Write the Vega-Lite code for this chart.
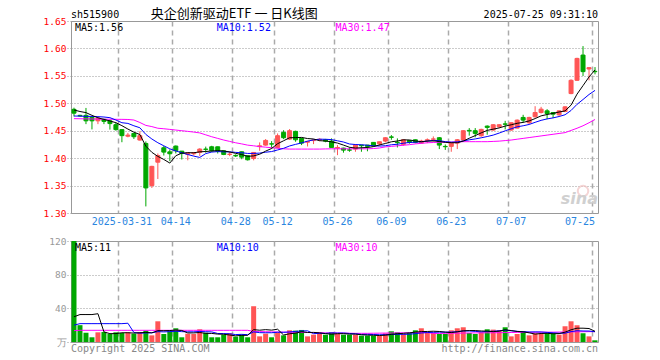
{
"$schema":"https://vega.github.io/schema/vega-lite/v6.json",
"background":"white",
"padding":{"left":42,"top":7,"right":0,"bottom":0},
"config":{"view":{"stroke":"#999","strokeWidth":1},"font":"DejaVu Sans Mono"},
"bounds":"flush",
"spacing":28,
"datasets":{"k":[
{"d":"2025-03-19","o":1.489,"h":1.492,"l":1.476,"c":1.482,"v":120,"m5":1.4878,"m10":1.4768,"m30":1.472,"v5":30,"v10":20,"v30":13.5},
{"d":"2025-03-20","o":1.478,"h":1.479,"l":1.476,"c":1.477,"v":20,"m5":1.485,"m10":1.4765,"m30":1.4718,"v5":32.6,"v10":21.8,"v30":13.9},
{"d":"2025-03-21","o":1.478,"h":1.4915,"l":1.462,"c":1.468,"v":11,"m5":1.483,"m10":1.4762,"m30":1.4716,"v5":32.6,"v10":21.8,"v30":13.9},
{"d":"2025-03-24","o":1.4744,"h":1.476,"l":1.4524,"c":1.468,"v":5.6,"m5":1.478,"m10":1.476,"m30":1.4714,"v5":32.6,"v10":21.8,"v30":13.9},
{"d":"2025-03-25","o":1.468,"h":1.474,"l":1.462,"c":1.473,"v":11.5,"m5":1.4736,"m10":1.4756,"m30":1.4712,"v5":33.6,"v10":21.8,"v30":13.9},
{"d":"2025-03-26","o":1.4707,"h":1.472,"l":1.462,"c":1.467,"v":11.9,"m5":1.4706,"m10":1.475,"m30":1.471,"v5":12.0,"v10":21.8,"v30":13.9},
{"d":"2025-03-27","o":1.468,"h":1.47,"l":1.452,"c":1.463,"v":9.5,"m5":1.4678,"m10":1.4738,"m30":1.471,"v5":9.9,"v10":21.8,"v30":13.9},
{"d":"2025-03-28","o":1.461,"h":1.465,"l":1.45,"c":1.452,"v":11.5,"m5":1.4646,"m10":1.4695,"m30":1.4708,"v5":10.0,"v10":21.8,"v30":13.9},
{"d":"2025-03-31","o":1.452,"h":1.453,"l":1.429,"c":1.441,"v":10.7,"m5":1.4592,"m10":1.4646,"m30":1.4707,"v5":11.0,"v10":21.8,"v30":13.9},
{"d":"2025-04-01","o":1.44,"h":1.446,"l":1.438,"c":1.442,"v":11.5,"m5":1.453,"m10":1.4633,"m30":1.4705,"v5":11.0,"v10":22.3,"v30":13.9},
{"d":"2025-04-02","o":1.445,"h":1.446,"l":1.435,"c":1.439,"v":9.9,"m5":1.4474,"m10":1.459,"m30":1.4695,"v5":10.6,"v10":11.3,"v30":13.9},
{"d":"2025-04-03","o":1.433,"h":1.449,"l":1.432,"c":1.441,"v":11.5,"m5":1.443,"m10":1.4554,"m30":1.465,"v5":11.0,"v10":10.5,"v30":13.9},
{"d":"2025-04-07","o":1.4268,"h":1.4305,"l":1.312,"c":1.3457,"v":13.5,"m5":1.4218,"m10":1.4432,"m30":1.4597,"v5":11.4,"v10":10.7,"v30":13.9},
{"d":"2025-04-08","o":1.35,"h":1.386,"l":1.3457,"c":1.385,"v":7.9,"m5":1.4106,"m10":1.4349,"m30":1.4575,"v5":10.9,"v10":10.9,"v30":13.9},
{"d":"2025-04-09","o":1.3926,"h":1.4085,"l":1.362,"c":1.4048,"v":24.6,"m5":1.4032,"m10":1.4281,"m30":1.4545,"v5":13.5,"v10":12.3,"v30":13.9},
{"d":"2025-04-10","o":1.4189,"h":1.422,"l":1.4048,"c":1.411,"v":9.5,"m5":1.3976,"m10":1.4225,"m30":1.4536,"v5":13.4,"v10":12.0,"v30":13.9},
{"d":"2025-04-11","o":1.4115,"h":1.416,"l":1.3945,"c":1.408,"v":12.7,"m5":1.391,"m10":1.417,"m30":1.4524,"v5":13.6,"v10":12.3,"v30":13.9},
{"d":"2025-04-14","o":1.422,"h":1.423,"l":1.4085,"c":1.4134,"v":16.3,"m5":1.4044,"m10":1.4131,"m30":1.4512,"v5":14.2,"v10":12.8,"v30":13.9},
{"d":"2025-04-15","o":1.4128,"h":1.413,"l":1.3975,"c":1.4085,"v":5.6,"m5":1.4091,"m10":1.4099,"m30":1.45,"v5":13.7,"v10":12.3,"v30":13.9},
{"d":"2025-04-16","o":1.407,"h":1.41,"l":1.396,"c":1.4096,"v":9.9,"m5":1.41,"m10":1.4066,"m30":1.4488,"v5":10.8,"v10":12.1,"v30":13.9},
{"d":"2025-04-17","o":1.408,"h":1.411,"l":1.405,"c":1.41,"v":9.5,"m5":1.4098,"m10":1.4037,"m30":1.4475,"v5":10.8,"v10":12.1,"v30":13.9},
{"d":"2025-04-18","o":1.4104,"h":1.418,"l":1.404,"c":1.4165,"v":15.1,"m5":1.4115,"m10":1.4013,"m30":1.446,"v5":11.3,"v10":12.5,"v30":13.9},
{"d":"2025-04-21","o":1.4165,"h":1.421,"l":1.41,"c":1.416,"v":11.1,"m5":1.4121,"m10":1.4083,"m30":1.4425,"v5":10.2,"v10":12.2,"v30":13.9},
{"d":"2025-04-22","o":1.4207,"h":1.4225,"l":1.4116,"c":1.4134,"v":5.6,"m5":1.4131,"m10":1.4111,"m30":1.439,"v5":10.2,"v10":12.0,"v30":13.9},
{"d":"2025-04-23","o":1.4207,"h":1.421,"l":1.4085,"c":1.4128,"v":5.6,"m5":1.4137,"m10":1.4119,"m30":1.436,"v5":9.4,"v10":10.1,"v30":13.9},
{"d":"2025-04-24","o":1.4134,"h":1.414,"l":1.4055,"c":1.4067,"v":8.7,"m5":1.4131,"m10":1.4115,"m30":1.433,"v5":9.2,"v10":10.0,"v30":13.9},
{"d":"2025-04-25","o":1.4067,"h":1.4116,"l":1.4036,"c":1.4073,"v":10.3,"m5":1.4112,"m10":1.4114,"m30":1.4305,"v5":8.3,"v10":9.8,"v30":13.9},
{"d":"2025-04-28","o":1.405,"h":1.407,"l":1.402,"c":1.404,"v":6.4,"m5":1.4088,"m10":1.4105,"m30":1.428,"v5":7.3,"v10":8.8,"v30":13.9},
{"d":"2025-04-29","o":1.4116,"h":1.412,"l":1.398,"c":1.4018,"v":8.7,"m5":1.4065,"m10":1.4098,"m30":1.426,"v5":7.9,"v10":9.1,"v30":13.9},
{"d":"2025-04-30","o":1.4043,"h":1.405,"l":1.3957,"c":1.397,"v":5.6,"m5":1.4034,"m10":1.4086,"m30":1.4237,"v5":7.9,"v10":8.7,"v30":13.9},
{"d":"2025-05-06","o":1.3994,"h":1.411,"l":1.396,"c":1.4104,"v":42.5,"m5":1.4041,"m10":1.4086,"m30":1.4225,"v5":14.7,"v10":12.0,"v30":12.5},
{"d":"2025-05-07","o":1.421,"h":1.4287,"l":1.4134,"c":1.4225,"v":6.7,"m5":1.4071,"m10":1.4092,"m30":1.421,"v5":14.0,"v10":11.1,"v30":12.3},
{"d":"2025-05-08","o":1.4238,"h":1.4348,"l":1.4226,"c":1.4323,"v":9.9,"m5":1.4128,"m10":1.4108,"m30":1.42,"v5":14.7,"v10":11.0,"v30":12.2},
{"d":"2025-05-09","o":1.4262,"h":1.431,"l":1.4177,"c":1.4256,"v":5.6,"m5":1.4176,"m10":1.412,"m30":1.419,"v5":14.1,"v10":11.0,"v30":12.0},
{"d":"2025-05-12","o":1.4195,"h":1.445,"l":1.4177,"c":1.4409,"v":11.5,"m5":1.4263,"m10":1.4149,"m30":1.418,"v5":15.2,"v10":11.6,"v30":11.9},
{"d":"2025-05-13","o":1.447,"h":1.451,"l":1.4347,"c":1.4372,"v":7.9,"m5":1.4317,"m10":1.4179,"m30":1.417,"v5":8.3,"v10":11.5,"v30":11.7},
{"d":"2025-05-14","o":1.4347,"h":1.453,"l":1.4335,"c":1.45,"v":13.9,"m5":1.4372,"m10":1.4222,"m30":1.4165,"v5":9.8,"v10":11.9,"v30":11.6},
{"d":"2025-05-15","o":1.4488,"h":1.45,"l":1.4299,"c":1.4335,"v":13.5,"m5":1.4374,"m10":1.4251,"m30":1.4165,"v5":10.5,"v10":12.6,"v30":11.5},
{"d":"2025-05-16","o":1.436,"h":1.437,"l":1.4238,"c":1.4274,"v":14.3,"m5":1.4378,"m10":1.4277,"m30":1.4165,"v5":12.2,"v10":13.1,"v30":11.4},
{"d":"2025-05-19","o":1.429,"h":1.431,"l":1.4213,"c":1.4305,"v":6.7,"m5":1.4357,"m10":1.431,"m30":1.4165,"v5":11.3,"v10":13.3,"v30":11.3},
{"d":"2025-05-20","o":1.432,"h":1.434,"l":1.4256,"c":1.433,"v":8.7,"m5":1.4349,"m10":1.4333,"m30":1.4165,"v5":11.4,"v10":9.9,"v30":11.1},
{"d":"2025-05-21","o":1.4335,"h":1.436,"l":1.431,"c":1.4345,"v":11.1,"m5":1.4318,"m10":1.4345,"m30":1.4165,"v5":10.9,"v10":10.3,"v30":11.0},
{"d":"2025-05-22","o":1.4335,"h":1.435,"l":1.429,"c":1.431,"v":8.7,"m5":1.4313,"m10":1.4344,"m30":1.4168,"v5":9.9,"v10":10.2,"v30":10.8},
{"d":"2025-05-23","o":1.4311,"h":1.436,"l":1.419,"c":1.4195,"v":11.5,"m5":1.4297,"m10":1.4338,"m30":1.417,"v5":9.3,"v10":10.8,"v30":10.7},
{"d":"2025-05-26","o":1.4183,"h":1.4238,"l":1.4055,"c":1.4195,"v":9.5,"m5":1.4275,"m10":1.4316,"m30":1.417,"v5":9.9,"v10":10.6,"v30":10.6},
{"d":"2025-05-27","o":1.4183,"h":1.419,"l":1.41,"c":1.4146,"v":8.7,"m5":1.4238,"m10":1.4294,"m30":1.417,"v5":9.9,"v10":10.7,"v30":10.5},
{"d":"2025-05-28","o":1.415,"h":1.4195,"l":1.4116,"c":1.4146,"v":8.7,"m5":1.4198,"m10":1.4258,"m30":1.417,"v5":9.4,"v10":10.1,"v30":10.4},
{"d":"2025-05-29","o":1.4165,"h":1.4256,"l":1.4116,"c":1.4238,"v":8.7,"m5":1.4184,"m10":1.4248,"m30":1.417,"v5":9.4,"v10":9.7,"v30":10.3},
{"d":"2025-05-30","o":1.4238,"h":1.424,"l":1.4116,"c":1.4226,"v":7.5,"m5":1.419,"m10":1.4244,"m30":1.417,"v5":8.6,"v10":9.0,"v30":10.3},
{"d":"2025-06-03","o":1.4238,"h":1.424,"l":1.4125,"c":1.4214,"v":7.5,"m5":1.4194,"m10":1.4235,"m30":1.417,"v5":8.2,"v10":9.1,"v30":10.3},
{"d":"2025-06-04","o":1.4287,"h":1.429,"l":1.421,"c":1.4226,"v":7.5,"m5":1.421,"m10":1.4224,"m30":1.4175,"v5":8.0,"v10":8.9,"v30":10.4},
{"d":"2025-06-05","o":1.4262,"h":1.43,"l":1.4226,"c":1.4299,"v":7.5,"m5":1.4241,"m10":1.422,"m30":1.4185,"v5":7.7,"v10":8.6,"v30":10.5},
{"d":"2025-06-06","o":1.4311,"h":1.438,"l":1.4287,"c":1.4372,"v":10.3,"m5":1.4267,"m10":1.4226,"m30":1.4205,"v5":8.1,"v10":8.7,"v30":10.6},
{"d":"2025-06-09","o":1.4387,"h":1.442,"l":1.4335,"c":1.438,"v":12.7,"m5":1.4298,"m10":1.4244,"m30":1.4215,"v5":9.1,"v10":8.9,"v30":10.7},
{"d":"2025-06-10","o":1.429,"h":1.436,"l":1.4195,"c":1.4282,"v":11.5,"m5":1.4312,"m10":1.4253,"m30":1.4225,"v5":9.9,"v10":9.1,"v30":10.8},
{"d":"2025-06-11","o":1.425,"h":1.4348,"l":1.4225,"c":1.4335,"v":9.5,"m5":1.4334,"m10":1.4272,"m30":1.4235,"v5":10.3,"v10":9.1,"v30":10.9},
{"d":"2025-06-12","o":1.4323,"h":1.433,"l":1.4262,"c":1.4287,"v":10.7,"m5":1.4331,"m10":1.4286,"m30":1.4245,"v5":10.9,"v10":9.3,"v30":11.0},
{"d":"2025-06-13","o":1.4335,"h":1.434,"l":1.427,"c":1.4287,"v":13.9,"m5":1.4314,"m10":1.4291,"m30":1.426,"v5":11.7,"v10":9.9,"v30":11.1},
{"d":"2025-06-16","o":1.4274,"h":1.4335,"l":1.427,"c":1.4311,"v":16.3,"m5":1.43,"m10":1.4299,"m30":1.427,"v5":12.4,"v10":10.7,"v30":11.2},
{"d":"2025-06-17","o":1.4323,"h":1.436,"l":1.4274,"c":1.4335,"v":11.9,"m5":1.4311,"m10":1.4311,"m30":1.428,"v5":12.5,"v10":11.2,"v30":11.2},
{"d":"2025-06-18","o":1.4345,"h":1.4396,"l":1.43,"c":1.435,"v":11.1,"m5":1.4314,"m10":1.4324,"m30":1.4285,"v5":12.8,"v10":11.5,"v30":10.1},
{"d":"2025-06-19","o":1.4372,"h":1.4384,"l":1.4165,"c":1.4238,"v":9.5,"m5":1.4304,"m10":1.4318,"m30":1.429,"v5":12.5,"v10":11.7,"v30":10.2},
{"d":"2025-06-20","o":1.4214,"h":1.425,"l":1.415,"c":1.4208,"v":9.5,"m5":1.4288,"m10":1.4301,"m30":1.429,"v5":11.7,"v10":11.7,"v30":10.3},
{"d":"2025-06-23","o":1.4214,"h":1.4287,"l":1.4116,"c":1.4274,"v":13.9,"m5":1.4281,"m10":1.4291,"m30":1.4292,"v5":11.2,"v10":11.8,"v30":10.4},
{"d":"2025-06-24","o":1.4274,"h":1.4348,"l":1.4165,"c":1.4335,"v":16.3,"m5":1.4281,"m10":1.4296,"m30":1.4295,"v5":12.1,"v10":12.3,"v30":10.5},
{"d":"2025-06-25","o":1.433,"h":1.451,"l":1.432,"c":1.45,"v":17.5,"m5":1.4311,"m10":1.4313,"m30":1.43,"v5":13.3,"v10":13.1,"v30":10.6},
{"d":"2025-06-26","o":1.4506,"h":1.4548,"l":1.441,"c":1.4497,"v":10.7,"m5":1.4363,"m10":1.4334,"m30":1.43,"v5":13.6,"v10":13.1,"v30":10.7},
{"d":"2025-06-27","o":1.45,"h":1.4548,"l":1.438,"c":1.4451,"v":9.5,"m5":1.4411,"m10":1.435,"m30":1.43,"v5":13.6,"v10":12.6,"v30":10.8},
{"d":"2025-06-30","o":1.4409,"h":1.4536,"l":1.439,"c":1.4524,"v":11.5,"m5":1.4461,"m10":1.4371,"m30":1.43,"v5":13.1,"v10":12.1,"v30":10.9},
{"d":"2025-07-01","o":1.4584,"h":1.4596,"l":1.4427,"c":1.456,"v":15.1,"m5":1.4506,"m10":1.4394,"m30":1.43,"v5":12.9,"v10":12.5,"v30":10.9},
{"d":"2025-07-02","o":1.4512,"h":1.462,"l":1.45,"c":1.4609,"v":14.7,"m5":1.4528,"m10":1.442,"m30":1.4305,"v5":12.3,"v10":12.8,"v30":11.0},
{"d":"2025-07-03","o":1.4572,"h":1.462,"l":1.4548,"c":1.4609,"v":13.9,"m5":1.4551,"m10":1.4457,"m30":1.431,"v5":12.9,"v10":13.3,"v30":11.1},
{"d":"2025-07-04","o":1.4624,"h":1.468,"l":1.4524,"c":1.4618,"v":17.5,"m5":1.4584,"m10":1.4498,"m30":1.432,"v5":14.5,"v10":14.1,"v30":11.2},
{"d":"2025-07-07","o":1.4512,"h":1.465,"l":1.45,"c":1.4645,"v":6.7,"m5":1.4608,"m10":1.4535,"m30":1.433,"v5":13.6,"v10":13.3,"v30":11.3},
{"d":"2025-07-08","o":1.4548,"h":1.4705,"l":1.4545,"c":1.4693,"v":9.5,"m5":1.4635,"m10":1.4571,"m30":1.4345,"v5":12.5,"v10":12.7,"v30":11.4},
{"d":"2025-07-09","o":1.4742,"h":1.479,"l":1.4645,"c":1.4693,"v":12.7,"m5":1.4652,"m10":1.459,"m30":1.436,"v5":12.1,"v10":12.2,"v30":11.5},
{"d":"2025-07-10","o":1.4645,"h":1.4754,"l":1.462,"c":1.4742,"v":7.9,"m5":1.4678,"m10":1.4614,"m30":1.4375,"v5":10.9,"v10":11.9,"v30":11.5},
{"d":"2025-07-11","o":1.4754,"h":1.4947,"l":1.474,"c":1.4832,"v":10.3,"m5":1.4721,"m10":1.4653,"m30":1.439,"v5":9.4,"v10":12.0,"v30":11.6},
{"d":"2025-07-14","o":1.4832,"h":1.4935,"l":1.4814,"c":1.4893,"v":10.3,"m5":1.4771,"m10":1.4689,"m30":1.4405,"v5":10.1,"v10":11.9,"v30":11.7},
{"d":"2025-07-15","o":1.4862,"h":1.4893,"l":1.4711,"c":1.4814,"v":10.3,"m5":1.4795,"m10":1.4715,"m30":1.442,"v5":10.3,"v10":11.4,"v30":11.7},
{"d":"2025-07-16","o":1.4832,"h":1.4835,"l":1.473,"c":1.4802,"v":10.3,"m5":1.4817,"m10":1.4734,"m30":1.4435,"v5":9.8,"v10":10.9,"v30":11.7},
{"d":"2025-07-17","o":1.479,"h":1.487,"l":1.4772,"c":1.4862,"v":8.7,"m5":1.4841,"m10":1.4759,"m30":1.445,"v5":10.0,"v10":10.4,"v30":11.8},
{"d":"2025-07-18","o":1.485,"h":1.4947,"l":1.4838,"c":1.4935,"v":18.7,"m5":1.4861,"m10":1.4791,"m30":1.4465,"v5":11.7,"v10":10.5,"v30":11.9},
{"d":"2025-07-21","o":1.5177,"h":1.5437,"l":1.5165,"c":1.5419,"v":24.6,"m5":1.4966,"m10":1.4869,"m30":1.4505,"v5":14.5,"v10":12.3,"v30":12.0},
{"d":"2025-07-22","o":1.5419,"h":1.583,"l":1.5407,"c":1.5818,"v":19.9,"m5":1.5167,"m10":1.4981,"m30":1.4545,"v5":16.4,"v10":13.4,"v30":12.1},
{"d":"2025-07-23","o":1.5879,"h":1.6042,"l":1.5498,"c":1.5577,"v":10.3,"m5":1.5322,"m10":1.5069,"m30":1.459,"v5":16.4,"v10":13.1,"v30":12.2},
{"d":"2025-07-24","o":1.5625,"h":1.566,"l":1.5419,"c":1.565,"v":6.7,"m5":1.548,"m10":1.516,"m30":1.4645,"v5":16.0,"v10":13.0,"v30":12.3},
{"d":"2025-07-25","o":1.5582,"h":1.566,"l":1.5528,"c":1.5576,"v":2,"m5":1.5608,"m10":1.5235,"m30":1.4705,"v5":12.7,"v10":12.2,"v30":12.3}
]},
"vconcat":[
{
"width":527,"height":192,
"layer":[
{"data":{"name":"k"},"mark":{"type":"rule","strokeWidth":1},
 "encoding":{
  "x":{"field":"d","type":"ordinal","title":null,"scale":{"paddingInner":0,"paddingOuter":0},
   "axis":{"title":null,"values":["2025-03-31","2025-04-14","2025-04-28","2025-05-12","2025-05-26","2025-06-09","2025-06-23","2025-07-07","2025-07-25"],
    "labelExpr":"datum.value == '2025-03-31' ? datum.value : slice(datum.value, 5)","labelAngle":0,"labelOverlap":false,
    "labelColor":"#2a86e0","labelFont":"DejaVu Sans Mono","labelFontSize":10,"labelPadding":3,
    "labelAlign":{"condition":{"test":"datum.value == '2025-07-25'","value":"right"},"value":"center"},
    "bandPosition":0,"ticks":false,"domain":false,"grid":true,"gridDash":[5,4],"gridColor":"#aaa","gridWidth":1.5}},
  "y":{"field":"l","type":"quantitative","title":null,"scale":{"domain":[1.3,1.65],"nice":false,"zero":false},
   "axis":{"title":null,"tickCount":7,"format":".2f","labelColor":"#ff0000","labelFont":"DejaVu Sans Mono","labelFontSize":9.5,"labelOverlap":false,"labelBound":false,
    "grid":true,"gridDash":[1,2],"gridColor":"#999","ticks":true,"tickDash":[1,2],"tickColor":"#999","tickSize":4,"domain":false,"labelPadding":1}},
  "y2":{"field":"h"},
  "color":{"condition":{"test":"datum.c > datum.o","value":"#ff5555"},"value":"#00a800"}}},
{"data":{"name":"k"},"mark":{"type":"bar","size":4,"strokeWidth":1},
 "encoding":{
  "x":{"field":"d","type":"ordinal","title":null},
  "y":{"field":"o","type":"quantitative","title":null},
  "y2":{"field":"c"},
  "color":{"condition":{"test":"datum.c > datum.o","value":"#ff5555"},"value":"#00a800"},
  "stroke":{"condition":{"test":"datum.c > datum.o","value":"#ff5555"},"value":"#00a800"}}},
{"data":{"name":"k"},"mark":{"type":"line","strokeWidth":1,"color":"#ff00ff"},
 "encoding":{"x":{"field":"d","type":"ordinal","title":null},"y":{"field":"m30","type":"quantitative","title":null}}},
{"data":{"name":"k"},"mark":{"type":"line","strokeWidth":1,"color":"#0000ff"},
 "encoding":{"x":{"field":"d","type":"ordinal","title":null},"y":{"field":"m10","type":"quantitative","title":null}}},
{"data":{"name":"k"},"mark":{"type":"line","strokeWidth":1,"color":"#000000"},
 "encoding":{"x":{"field":"d","type":"ordinal","title":null},"y":{"field":"m5","type":"quantitative","title":null}}},
{"data":{"values":[{}]},"mark":{"type":"text","align":"left","baseline":"alphabetic","fontSize":10,"font":"DejaVu Sans Mono","color":"#000","dx":-3},
 "encoding":{"x":{"datum":"2025-03-19","type":"ordinal","title":null},"y":{"datum":1.6555,"type":"quantitative","title":null},"text":{"value":"sh515900"}}},
{"data":{"values":[{}]},"mark":{"type":"text","align":"left","baseline":"alphabetic","fontSize":13,"font":"Noto Sans CJK SC","color":"#000","dx":-1},
 "encoding":{"x":{"datum":"2025-04-08","type":"ordinal","title":null},"y":{"datum":1.6555,"type":"quantitative","title":null},"text":{"value":"央企创新驱动ETF 一 日K线图"}}},
{"data":{"values":[{}]},"mark":{"type":"text","align":"right","baseline":"alphabetic","fontSize":10,"font":"DejaVu Sans Mono","color":"#000","dx":3},
 "encoding":{"x":{"datum":"2025-07-25","type":"ordinal","title":null},"y":{"datum":1.6555,"type":"quantitative","title":null},"text":{"value":"2025-07-25 09:31:10"}}},
{"data":{"values":[{}]},"mark":{"type":"text","align":"left","baseline":"top","fontSize":10,"font":"DejaVu Sans Mono","color":"#000","dx":1,"dy":2},
 "encoding":{"x":{"datum":"2025-03-19","type":"ordinal","title":null},"y":{"datum":1.65,"type":"quantitative","title":null},"text":{"value":"MA5:1.56"}}},
{"data":{"values":[{}]},"mark":{"type":"text","align":"left","baseline":"top","fontSize":10,"font":"DejaVu Sans Mono","color":"#0000ff","dx":-1,"dy":2},
 "encoding":{"x":{"datum":"2025-04-23","type":"ordinal","title":null},"y":{"datum":1.65,"type":"quantitative","title":null},"text":{"value":"MA10:1.52"}}},
{"data":{"values":[{}]},"mark":{"type":"text","align":"left","baseline":"top","fontSize":10,"font":"DejaVu Sans Mono","color":"#ff00ff","dx":-2,"dy":2},
 "encoding":{"x":{"datum":"2025-05-26","type":"ordinal","title":null},"y":{"datum":1.65,"type":"quantitative","title":null},"text":{"value":"MA30:1.47"}}},
{"data":{"values":[{}]},"mark":{"type":"point","shape":"circle","size":110,"strokeWidth":2,"color":"#f2c4c4","filled":false},
 "encoding":{"x":{"datum":"2025-07-23","type":"ordinal","title":null},"y":{"datum":1.340,"type":"quantitative","title":null}}},
{"data":{"values":[{}]},"mark":{"type":"text","align":"right","baseline":"alphabetic","fontSize":16,"font":"DejaVu Sans","fontStyle":"italic","fontWeight":"bold","color":"#d0d0d0","dx":3},
 "encoding":{"x":{"datum":"2025-07-25","type":"ordinal","title":null},"y":{"datum":1.3164,"type":"quantitative","title":null},"text":{"value":"sina"}}}
]
},
{
"width":527,"height":101,
"layer":[
{"data":{"name":"k"},"mark":{"type":"bar","size":5},
 "encoding":{
  "x":{"field":"d","type":"ordinal","title":null,"scale":{"paddingInner":0,"paddingOuter":0},
   "axis":{"title":null,"values":["2025-03-31","2025-04-14","2025-04-28","2025-05-12","2025-05-26","2025-06-09","2025-06-23","2025-07-07","2025-07-25"],
    "labels":false,"bandPosition":0,"ticks":false,"domain":false,"grid":true,"gridDash":[5,4],"gridColor":"#aaa","gridWidth":1.5}},
  "y":{"field":"v","type":"quantitative","title":null,"scale":{"domain":[0,120],"nice":false},
   "axis":{"title":null,"values":[0,40,80,120],"labelExpr":"datum.value == 0 ? '万' : datum.label","labelColor":"#999","labelFont":"DejaVu Sans Mono","labelFontSize":9.5,"labelOverlap":false,"labelBound":false,"grid":true,"gridDash":[1,2],"gridColor":"#999","ticks":true,"tickDash":[1,2],"tickColor":"#999","tickSize":4,"domain":false,"labelPadding":1}},
  "color":{"condition":{"test":"datum.c > datum.o","value":"#ff5555"},"value":"#00a800"}}},
{"data":{"name":"k"},"mark":{"type":"line","strokeWidth":1,"color":"#ff00ff"},
 "encoding":{"x":{"field":"d","type":"ordinal","title":null},"y":{"field":"v30","type":"quantitative","title":null,
   "axis":{"title":null,"values":[0,40,80,120],"labelExpr":"datum.value == 0 ? '万' : datum.label","labelColor":"#999","labelFont":"DejaVu Sans Mono","labelFontSize":9.5,"labelOverlap":false,"labelBound":false,"grid":true,"gridDash":[1,2],"gridColor":"#999","ticks":true,"tickDash":[1,2],"tickColor":"#999","tickSize":4,"domain":false,"labelPadding":1}}}},
{"data":{"name":"k"},"mark":{"type":"line","strokeWidth":1,"color":"#0000ff"},
 "encoding":{"x":{"field":"d","type":"ordinal","title":null},"y":{"field":"v10","type":"quantitative","title":null,
   "axis":{"title":null,"values":[0,40,80,120],"labelExpr":"datum.value == 0 ? '万' : datum.label","labelColor":"#999","labelFont":"DejaVu Sans Mono","labelFontSize":9.5,"labelOverlap":false,"labelBound":false,"grid":true,"gridDash":[1,2],"gridColor":"#999","ticks":true,"tickDash":[1,2],"tickColor":"#999","tickSize":4,"domain":false,"labelPadding":1}}}},
{"data":{"name":"k"},"mark":{"type":"line","strokeWidth":1,"color":"#000000"},
 "encoding":{"x":{"field":"d","type":"ordinal","title":null},"y":{"field":"v5","type":"quantitative","title":null,
   "axis":{"title":null,"values":[0,40,80,120],"labelExpr":"datum.value == 0 ? '万' : datum.label","labelColor":"#999","labelFont":"DejaVu Sans Mono","labelFontSize":9.5,"labelOverlap":false,"labelBound":false,"grid":true,"gridDash":[1,2],"gridColor":"#999","ticks":true,"tickDash":[1,2],"tickColor":"#999","tickSize":4,"domain":false,"labelPadding":1}}}},
{"data":{"values":[{}]},"mark":{"type":"text","align":"left","baseline":"top","fontSize":10,"font":"DejaVu Sans Mono","color":"#000","dx":1,"dy":2},
 "encoding":{"x":{"datum":"2025-03-19","type":"ordinal","title":null},"y":{"datum":120,"type":"quantitative","title":null,
   "axis":{"title":null,"values":[0,40,80,120],"labelExpr":"datum.value == 0 ? '万' : datum.label","labelColor":"#999","labelFont":"DejaVu Sans Mono","labelFontSize":9.5,"labelOverlap":false,"labelBound":false,"grid":true,"gridDash":[1,2],"gridColor":"#999","ticks":true,"tickDash":[1,2],"tickColor":"#999","tickSize":4,"domain":false,"labelPadding":1}},"text":{"value":"MA5:11"}}},
{"data":{"values":[{}]},"mark":{"type":"text","align":"left","baseline":"top","fontSize":10,"font":"DejaVu Sans Mono","color":"#0000ff","dx":-1,"dy":2},
 "encoding":{"x":{"datum":"2025-04-23","type":"ordinal","title":null},"y":{"datum":120,"type":"quantitative","title":null,
   "axis":{"title":null,"values":[0,40,80,120],"labelExpr":"datum.value == 0 ? '万' : datum.label","labelColor":"#999","labelFont":"DejaVu Sans Mono","labelFontSize":9.5,"labelOverlap":false,"labelBound":false,"grid":true,"gridDash":[1,2],"gridColor":"#999","ticks":true,"tickDash":[1,2],"tickColor":"#999","tickSize":4,"domain":false,"labelPadding":1}},"text":{"value":"MA10:10"}}},
{"data":{"values":[{}]},"mark":{"type":"text","align":"left","baseline":"top","fontSize":10,"font":"DejaVu Sans Mono","color":"#ff00ff","dx":-2,"dy":2},
 "encoding":{"x":{"datum":"2025-05-26","type":"ordinal","title":null},"y":{"datum":120,"type":"quantitative","title":null,
   "axis":{"title":null,"values":[0,40,80,120],"labelExpr":"datum.value == 0 ? '万' : datum.label","labelColor":"#999","labelFont":"DejaVu Sans Mono","labelFontSize":9.5,"labelOverlap":false,"labelBound":false,"grid":true,"gridDash":[1,2],"gridColor":"#999","ticks":true,"tickDash":[1,2],"tickColor":"#999","tickSize":4,"domain":false,"labelPadding":1}},"text":{"value":"MA30:10"}}},
{"data":{"values":[{}]},"mark":{"type":"text","align":"left","baseline":"top","fontSize":10,"font":"DejaVu Sans Mono","color":"#888","dx":-3,"dy":2},
 "encoding":{"x":{"datum":"2025-03-19","type":"ordinal","title":null},"y":{"datum":0,"type":"quantitative","title":null,
   "axis":{"title":null,"values":[0,40,80,120],"labelExpr":"datum.value == 0 ? '万' : datum.label","labelColor":"#999","labelFont":"DejaVu Sans Mono","labelFontSize":9.5,"labelOverlap":false,"labelBound":false,"grid":true,"gridDash":[1,2],"gridColor":"#999","ticks":true,"tickDash":[1,2],"tickColor":"#999","tickSize":4,"domain":false,"labelPadding":1}},"text":{"value":"Copyright 2025 SINA.COM"}}},
{"data":{"values":[{}]},"mark":{"type":"text","align":"right","baseline":"top","fontSize":10,"font":"DejaVu Sans Mono","color":"#888","dx":3,"dy":2},
 "encoding":{"x":{"datum":"2025-07-25","type":"ordinal","title":null},"y":{"datum":0,"type":"quantitative","title":null,
   "axis":{"title":null,"values":[0,40,80,120],"labelExpr":"datum.value == 0 ? '万' : datum.label","labelColor":"#999","labelFont":"DejaVu Sans Mono","labelFontSize":9.5,"labelOverlap":false,"labelBound":false,"grid":true,"gridDash":[1,2],"gridColor":"#999","ticks":true,"tickDash":[1,2],"tickColor":"#999","tickSize":4,"domain":false,"labelPadding":1}},"text":{"value":"http://finance.sina.com.cn"}}}
]
}
]
}
